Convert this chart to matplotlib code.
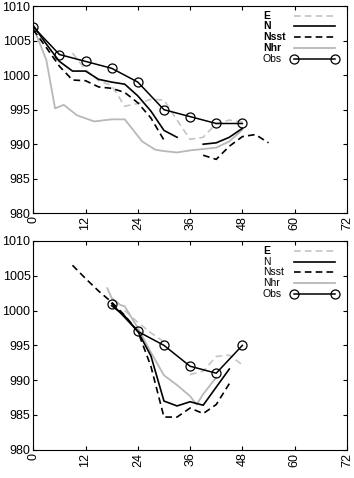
import numpy as np
import matplotlib
matplotlib.use("Agg")
import matplotlib.pyplot as plt
from matplotlib.lines import Line2D

nan = np.nan
# ---------------- Top panel data ----------------
top_obs_t = [0, 6, 12, 18, 24, 30, 36, 42, 48]
top_obs_v = [1007, 1003, 1002, 1001, 999, 995, 994, 993, 993]

top_N_t = [0, 3, 6, 9, 12, 15, 18, 21, 24, 27, 30, 33, 36, 39, 42, 45, 48]
top_N_v = [1007.2, 1004.5, 1002.0, 1000.6, 1000.6, 999.4, 999.0, 998.7, 997.0,
           994.8, 992.0, 991.0, nan, 990.0, 990.2, 991.0, 992.3]

top_Nsst_t = [0, 3, 6, 9, 12, 15, 18, 21, 24, 27, 30, 33, 36, 39, 42, 45, 48, 51, 54]
top_Nsst_v = [1006.6, 1004.0, 1001.3, 999.3, 999.2, 998.3, 998.1, 997.5, 996.0,
              993.8, 990.6, nan, nan, 988.4, 987.8, 989.7, 991.1, 991.4, 990.2]

top_Nhr_t = [0, 3, 5, 7, 10, 14, 18, 21, 22, 25, 28, 30, 33, 36, 39, 42, 45, 48]
top_Nhr_v = [1007.0, 1002.2, 995.2, 995.7, 994.2, 993.3, 993.6, 993.6, 992.8,
             990.4, 989.2, 989.0, 988.8, 989.1, 989.3, 989.5, 990.4, 992.1]

top_E_t = [9, 12, 15, 18, 21, 24, 27, 30, 33, 36, 39, 42, 45, 48]
top_E_v = [1003.2, 1000.8, 999.2, 998.5, 995.5, 995.9, 996.5, 996.4, 993.5,
           990.7, 991.0, 993.0, 993.5, 993.2]

# ---------------- Bottom panel data ----------------
bot_obs_t = [18, 24, 30, 36, 42, 48]
bot_obs_v = [1001, 997, 995, 992, 991, 995]

bot_Nsst_t = [9, 12, 15, 18, 21, 24, 27, 30, 33, 36, 39, 42, 45]
bot_Nsst_v = [1006.5, 1004.6, 1002.8, 1001.2, 999.3, 997.0, 992.0, 984.7,
              984.7, 986.0, 985.2, 986.5, 989.5]

bot_N_t = [18, 21, 24, 27, 30, 33, 36, 39, 42, 45]
bot_N_v = [1000.7, 999.2, 997.0, 993.5, 987.0, 986.3, 986.9, 986.4, 989.0, 991.6]

bot_Nhr_t = [17, 18, 20, 21, 24, 27, 30, 33, 36, 37.5, 39, 42]
bot_Nhr_v = [1003.2, 1001.8, 1000.8, 1000.6, 997.5, 994.0, 990.7, 989.3,
             987.7, 986.5, 988.0, 990.4]

bot_E_t = [21, 24, 27, 30, 33, 36, 39, 42, 45, 48]
bot_E_v = [1000.0, 998.3, 996.8, 995.5, nan, 990.8, 991.3, 993.4, 993.6, 992.2]

labels = ["E", "N", "Nsst", "Nhr", "Obs"]
xticks = [0, 12, 24, 36, 48, 60, 72]
yticks = [980, 985, 990, 995, 1000, 1005, 1010]

plt.rcParams['font.family'] = ['Liberation Sans', 'DejaVu Sans']

fig = plt.figure(figsize=(3.54, 4.78), dpi=100)
ax1 = fig.add_axes([0.094, 0.554, 0.886, 0.433])
ax2 = fig.add_axes([0.094, 0.059, 0.886, 0.437])

E_style = dict(color='#c4c4c4', lw=1.2, ls=(0, (4, 2.5)))
N_style = dict(color='black', lw=1.2, ls='-')
Nsst_style = dict(color='black', lw=1.2, ls=(0, (4, 2.5)))
Nhr_style = dict(color='#b8b8b8', lw=1.3, ls='-')
Obs_style = dict(color='black', lw=1.1, marker='o', ms=6.5, mfc='none',
                 mec='black', mew=0.9)
styles = [E_style, N_style, Nsst_style, Nhr_style, Obs_style]


def panel(ax, data, bold, rows):
    (Et, Ev), (Nt, Nv), (St, Sv), (Ht, Hv), (Ot, Ov) = data
    ax.plot(Et, Ev, **E_style)
    ax.plot(Ht, Hv, **Nhr_style)
    ax.plot(St, Sv, **Nsst_style)
    ax.plot(Nt, Nv, **N_style)
    ax.plot(Ot, Ov, **Obs_style)
    ax.set_xlim(0, 72)
    ax.set_ylim(980, 1010)
    ax.set_xticks(xticks)
    ax.set_yticks(yticks)
    ax.set_xticklabels([str(x) for x in xticks], rotation=90)
    ax.tick_params(direction='in', top=True, right=True, length=3,
                   labelsize=9, pad=2)
    # legend: labels left-aligned, sample lines on the right
    for lab, st, y, b in zip(labels, styles, rows, bold):
        ax.text(0.732, y, lab, transform=ax.transAxes, fontsize=7.5,
                ha='left', va='center',
                fontweight='bold' if b else 'normal')
        ln = Line2D([0.832, 0.962], [y, y], transform=ax.transAxes, **st)
        ax.add_line(ln)
    for s in ax.spines.values():
        s.set_linewidth(0.8)


panel(ax1, [(top_E_t, top_E_v), (top_N_t, top_N_v), (top_Nsst_t, top_Nsst_v),
            (top_Nhr_t, top_Nhr_v), (top_obs_t, top_obs_v)],
      [True, True, True, True, False],
      [0.955, 0.903, 0.850, 0.797, 0.747])
panel(ax2, [(bot_E_t, bot_E_v), (bot_N_t, bot_N_v), (bot_Nsst_t, bot_Nsst_v),
            (bot_Nhr_t, bot_Nhr_v), (bot_obs_t, bot_obs_v)],
      [True, False, False, False, False],
      [0.951, 0.900, 0.850, 0.799, 0.748])

fig.savefig("out.png", dpi=100)
